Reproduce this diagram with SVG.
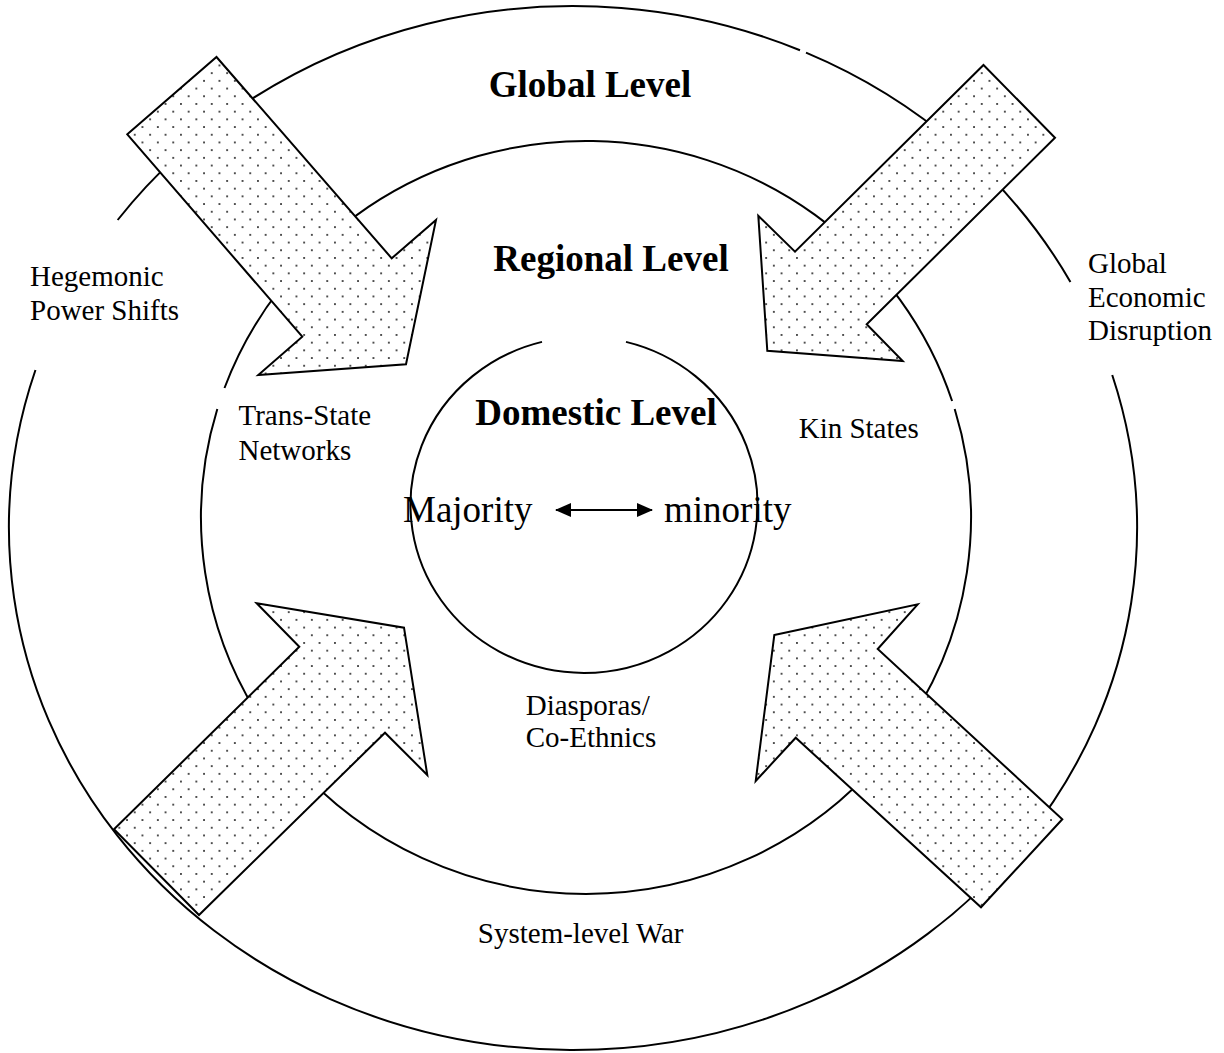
<svg xmlns="http://www.w3.org/2000/svg" width="1224" height="1053" viewBox="0 0 1224 1053">
<style>
.ring{fill:none;stroke:#000;stroke-width:2}
.blk{fill:url(#dots);stroke:#000;stroke-width:2;stroke-linejoin:miter}
.t{font-family:"Liberation Serif","Times New Roman",serif;fill:#000}
.lbl{font-size:29px}
.ttl{font-size:37px;font-weight:bold}
.big{font-size:37px}
</style>
<defs>
<pattern id="dots" patternUnits="userSpaceOnUse" width="15.4" height="15.4">
<rect width="15.4" height="15.4" fill="#fff"/>
<circle cx="3.85" cy="3.85" r="0.95" fill="#111"/>
<circle cx="11.55" cy="11.55" r="0.95" fill="#111"/>
</pattern>
<marker id="ah" viewBox="0 0 16 14" refX="15" refY="7" markerWidth="16" markerHeight="14" markerUnits="userSpaceOnUse" orient="auto-start-reverse">
<path d="M0,0 L16,7 L0,14 Z" fill="#000"/>
</marker>
</defs>
<rect width="1224" height="1053" fill="#fff"/>

<g id="global-level">
<path class="ring" d="M35.46,370 A564,522 0 1 0 1112.23,375 M1070.44,282 A564,522 0 0 0 806,52.6 M800,50.2 A564,522 0 0 0 117.64,220"/>
<text class="t ttl" x="590" y="97" text-anchor="middle">Global Level</text>
</g>

<g id="regional-level">
<path class="ring" d="M217.3,409 A385,376.5 0 1 0 954.7,409 M952.1,401 A385,376.5 0 0 0 224.5,388"/>
<text class="t ttl" x="611" y="271" text-anchor="middle">Regional Level</text>
</g>

<g id="domestic-level">
<path class="ring" d="M542,341.9 A173.5,168 0 1 0 626,341.9"/>
<text class="t ttl" x="596" y="425" text-anchor="middle">Domestic Level</text>
<text class="t big" x="403" y="522">Majority</text>
<text class="t big" x="664" y="522">minority</text>
</g>

<g id="arrow-hegemonic">
<polygon class="blk" points="127.3,134.3 216.5,57 391.7,258.3 436,220 406,364.3 258.3,375 302.3,336.7"/>
</g>
<g id="arrow-economic">
<polygon class="blk" points="983.5,65 1055,137.7 866.7,324.3 902.7,361 767.3,350.7 758.3,215.7 795,251.7"/>
</g>
<g id="arrow-war-left">
<polygon class="blk" points="256.7,603.3 404,627.7 427.3,775 385,732.7 199,915 114,829.3 299.3,646.7"/>
</g>
<g id="arrow-war-right">
<polygon class="blk" points="774.3,635 917.7,604.3 877.7,649 1062.3,819.3 981,907.3 795.7,737.7 755.7,781"/>
</g>

<g id="label-hegemonic">
<text class="t lbl" x="30" y="286">Hegemonic</text>
<text class="t lbl" x="30" y="320">Power Shifts</text>
</g>
<g id="label-economic">
<text class="t lbl" x="1088" y="273">Global</text>
<text class="t lbl" x="1088" y="307">Economic</text>
<text class="t lbl" x="1088" y="340">Disruption</text>
</g>
<g id="label-transstate">
<text class="t lbl" x="238.5" y="425">Trans-State</text>
<text class="t lbl" x="238.5" y="459.5">Networks</text>
</g>
<g id="label-kin">
<text class="t lbl" x="798.7" y="438">Kin States</text>
</g>
<g id="label-diasporas">
<text class="t lbl" x="525.7" y="714.5">Diasporas/</text>
<text class="t lbl" x="525.7" y="747">Co-Ethnics</text>
</g>
<g id="label-war">
<text class="t lbl" x="477.8" y="942.7">System-level War</text>
</g>

<g id="connectors">
<line x1="556" y1="510" x2="652" y2="510" stroke="#000" stroke-width="2" marker-start="url(#ah)" marker-end="url(#ah)"/>
</g>
</svg>
